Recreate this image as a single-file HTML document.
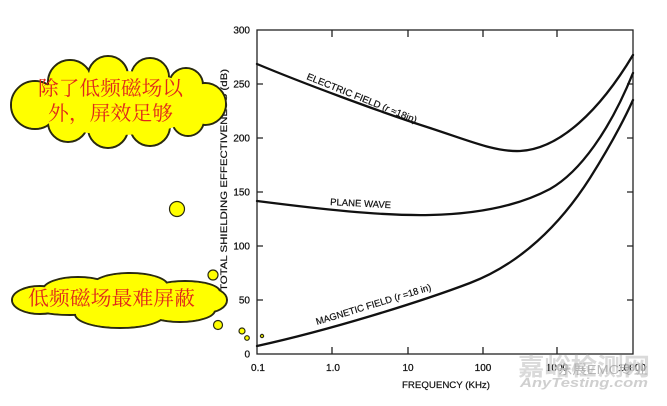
<!DOCTYPE html>
<html><head><meta charset="utf-8"><style>
html,body{margin:0;padding:0;background:#fff;}
svg{display:block;}
</style></head><body>
<svg width="667" height="406" viewBox="0 0 667 406" xmlns="http://www.w3.org/2000/svg">
<rect width="667" height="406" fill="#fff"/>
<!-- axis frame -->
<g stroke="#222" stroke-width="1.3" fill="none">
<rect x="257" y="30" width="376" height="324"/>
<path d="M257,84h6M257,138h6M257,192h6M257,246h6M257,300h6"/>
<path d="M633,84h-6M633,138h-6M633,192h-6M633,246h-6M633,300h-6"/>
<path d="M332,30v7M408,30v7M483,30v7M557,30v7"/>
<path d="M332,354v-7M408,354v-7M483,354v-7M557,354v-7"/>
</g>
<g font-family="'Liberation Sans', Arial, sans-serif" font-size="10" fill="#111" stroke="#111" stroke-width="0.25" text-anchor="end">
<text x="250" y="33.5">300</text>
<text x="250" y="87.5">250</text>
<text x="250" y="141.5">200</text>
<text x="250" y="195.5">150</text>
<text x="250" y="249.5">100</text>
<text x="250" y="303.5">50</text>
<text x="250" y="357.5">0</text>
</g>
<g font-family="'Liberation Sans', Arial, sans-serif" font-size="10" fill="#111" stroke="#111" stroke-width="0.25" text-anchor="middle">
<text x="258" y="371">0.1</text>
<text x="333" y="371">1.0</text>
<text x="408" y="371">10</text>
<text x="483" y="371">100</text>
<text x="557" y="371">1000</text>
<text x="632" y="371">10000</text>
</g>
<text x="402" y="388" font-family="'Liberation Sans', Arial, sans-serif" font-size="9.5" fill="#111" stroke="#111" stroke-width="0.2" textLength="88" lengthAdjust="spacingAndGlyphs">FREQUENCY (KHz)</text>
<text transform="translate(227,180) rotate(-90)" text-anchor="middle" font-family="'Liberation Sans', Arial, sans-serif" font-size="9.5" fill="#111" stroke="#111" stroke-width="0.2" textLength="222" lengthAdjust="spacingAndGlyphs">TOTAL SHIELDING EFFECTIVENESS (dB)</text>

<!-- curves -->
<g stroke="#111" stroke-width="2.3" fill="none" stroke-linecap="round">
<path d="M257,64 C300,82 380,112 430,128 C470,141 495,152 520,151 C560,149 600,110 633,55"/>
<path d="M257,201 C320,209 380,216 430,215 C480,214 520,205 550,189 C580,172 610,130 633,73"/>
<path d="M257,346 C330,330 420,302 470,283 C520,264 560,225 590,178 C607,151 623,122 633,100"/>
</g>
<g font-family="'Liberation Sans', Arial, sans-serif" font-size="9.5" fill="#111" stroke="#111" stroke-width="0.2">
<text transform="translate(306,79) rotate(22)" textLength="118" lengthAdjust="spacingAndGlyphs">ELECTRIC FIELD (<tspan font-style="italic">r</tspan> ≈18in)</text>
<text transform="translate(330,205) rotate(3)" textLength="61" lengthAdjust="spacingAndGlyphs">PLANE WAVE</text>
<text transform="translate(317,325) rotate(-17)" textLength="120" lengthAdjust="spacingAndGlyphs">MAGNETIC FIELD (<tspan font-style="italic">r</tspan> =18 in)</text>
</g>

<!-- watermark -->
<text x="518" y="375" font-family="'Liberation Sans', 'Noto Sans CJK SC', sans-serif" font-size="24" font-weight="bold" fill="#d4d4d4" fill-opacity="0.85" textLength="132" lengthAdjust="spacingAndGlyphs">嘉峪检测网</text>
<text x="558" y="374" font-family="'Liberation Sans', 'Noto Sans CJK SC', sans-serif" font-size="13" fill="#9a9a9a" fill-opacity="0.7" textLength="90" lengthAdjust="spacingAndGlyphs">东展EMC专业</text>
<text x="520" y="387" font-family="'Liberation Sans', sans-serif" font-size="13" font-weight="bold" font-style="italic" fill="#cfcfcf" textLength="128" lengthAdjust="spacingAndGlyphs">AnyTesting.com</text>

<!-- cloud 1 -->
<g stroke="#2a2a10" stroke-width="2" fill="#ffff00">
<circle cx="35" cy="105" r="24"/>
<circle cx="70" cy="82" r="22"/>
<circle cx="108" cy="76" r="20"/>
<circle cx="150" cy="77" r="19"/>
<circle cx="186" cy="85" r="17"/>
<circle cx="205" cy="104" r="21"/>
<circle cx="188" cy="120" r="16"/>
<circle cx="150" cy="126" r="20"/>
<circle cx="108" cy="128" r="20"/>
<circle cx="68" cy="122" r="20"/>
</g>
<g fill="#ffff00">
<circle cx="35" cy="105" r="23"/>
<circle cx="70" cy="82" r="21"/>
<circle cx="108" cy="76" r="19"/>
<circle cx="150" cy="77" r="18"/>
<circle cx="186" cy="85" r="16"/>
<circle cx="205" cy="104" r="20"/>
<circle cx="188" cy="120" r="15"/>
<circle cx="150" cy="126" r="19"/>
<circle cx="108" cy="128" r="19"/>
<circle cx="68" cy="122" r="19"/>
<ellipse cx="118" cy="103" rx="85" ry="32"/>
</g>
<g font-family="'Liberation Serif', 'Noto Serif CJK SC', 'Noto Serif CJK', serif" font-size="20" fill="#e0281a">
<text x="38" y="95" textLength="145" lengthAdjust="spacingAndGlyphs">除了低频磁场以</text>
<text x="48" y="120" textLength="125" lengthAdjust="spacingAndGlyphs">外，屏效足够</text>
</g>

<!-- bubbles -->
<g stroke="#2a2a10" stroke-width="1.2" fill="#ffff00">
<circle cx="177" cy="209" r="7.5"/>
<circle cx="213" cy="275" r="5"/>
<circle cx="218" cy="325" r="4.5"/>
<circle cx="242" cy="331" r="3"/>
<circle cx="247" cy="338" r="2.3"/>
<circle cx="262" cy="336" r="1.6"/>
</g>

<!-- cloud 2 -->
<g stroke="#2a2a10" stroke-width="2" fill="#ffff00">
<ellipse cx="40" cy="300" rx="28" ry="14"/>
<ellipse cx="78" cy="290" rx="35" ry="13"/>
<ellipse cx="130" cy="286" rx="38" ry="13"/>
<ellipse cx="185" cy="292" rx="35" ry="11"/>
<ellipse cx="205" cy="300" rx="22" ry="13"/>
<ellipse cx="70" cy="305" rx="40" ry="10"/>
<ellipse cx="120" cy="314" rx="45" ry="14"/>
<ellipse cx="180" cy="310" rx="35" ry="12"/>
</g>
<g fill="#ffff00">
<ellipse cx="40" cy="300" rx="27" ry="13"/>
<ellipse cx="78" cy="290" rx="34" ry="12"/>
<ellipse cx="130" cy="286" rx="37" ry="12"/>
<ellipse cx="185" cy="292" rx="34" ry="10"/>
<ellipse cx="205" cy="300" rx="21" ry="12"/>
<ellipse cx="70" cy="305" rx="39" ry="9"/>
<ellipse cx="120" cy="314" rx="44" ry="13"/>
<ellipse cx="180" cy="310" rx="34" ry="11"/>
<ellipse cx="118" cy="300" rx="90" ry="15"/>
</g>
<text x="28" y="305" font-family="'Liberation Serif', 'Noto Serif CJK SC', 'Noto Serif CJK', serif" font-size="20" fill="#e0281a" textLength="167" lengthAdjust="spacingAndGlyphs">低频磁场最难屏蔽</text>
</svg>
</body></html>
